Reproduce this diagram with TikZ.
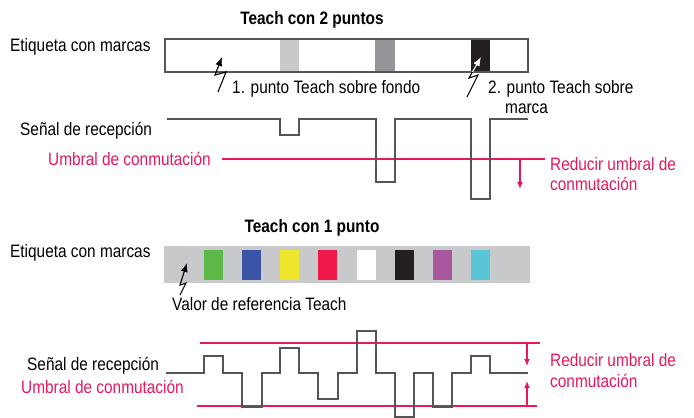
\documentclass[tikz,border=0pt]{standalone}
\usepackage{fontspec}
\setmainfont{Liberation Sans}[FakeStretch=0.855]
\usetikzlibrary{arrows.meta}
\definecolor{umbral}{HTML}{E8185A}
\definecolor{sig}{HTML}{555555}
\definecolor{lgray}{HTML}{C8C9CA}
\definecolor{mgray}{HTML}{939598}
\definecolor{dblack}{HTML}{231F20}
\definecolor{mgreen}{HTML}{5DB947}
\definecolor{mblue}{HTML}{3A53A4}
\definecolor{myellow}{HTML}{EFE52A}
\definecolor{mred}{HTML}{EE1849}
\definecolor{mpurple}{HTML}{A8579F}
\definecolor{mcyan}{HTML}{5BC5D8}
\tikzset{
  txt/.style={anchor=base west, inner sep=0pt, font=\fontsize{18}{20}\selectfont},
  rtxt/.style={txt, text=umbral},
  ttl/.style={anchor=base, inner sep=0pt, font=\fontsize{18}{20}\selectfont\bfseries},
  signal/.style={draw=sig, line width=1.5pt},
  thr/.style={draw=umbral, line width=1.3pt},
  thrarrow/.style={draw=umbral, line width=1.3pt, -{Latex[length=7pt,width=6pt]}},
  bolt/.style={line width=1.1pt, -{Latex[length=9pt,width=7pt]}}
}
\begin{document}
\begin{tikzpicture}[x=1pt,y=-1pt]
\useasboundingbox (0,0) rectangle (694,418);

% ---------- Teach con 2 puntos ----------
\node[ttl] (t2) at (312,24) {Teach con 2 puntos};
\node[txt] (et1) at (10,51) {Etiqueta con marcas};
\fill[lgray] (280,39) rectangle (299,72);
\fill[mgray] (375,39) rectangle (395,72);
\fill[dblack] (471,39) rectangle (490,72);
\draw[sig, line width=1.3pt] (165,39) rectangle (528,72);

\coordinate (b1a) at (218,92);
\coordinate (b1t) at (222,57);
\draw[bolt, draw=black] (b1a) -- (226,72) -- (215,75) -- (b1t);
\coordinate (b2a) at (467,97);
\coordinate (b2t) at (481,57);
\draw[bolt, draw=black] (b2a) -- (478,75) -- (469,78) -- (b2t);
\begin{scope}
  \clip (471,39) rectangle (490,71.3);
  \draw[bolt, draw=white] (b2a) -- (478,75) -- (469,78) -- (b2t);
\end{scope}

\node[txt] (p1) at (232,93) {1. punto Teach sobre fondo};
\node[txt] (p2) at (488,93) {2. punto Teach sobre};
\node[txt] (p2b) at (505,113) {marca};

\node[txt] (sr1) at (20,135) {Señal de recepción};
\node[rtxt] (um1) at (48,165) {Umbral de conmutación};

\draw[thr] (222,159) -- (545,159);
\draw[signal] (167,119) -- (280,119) -- (280,135) -- (299,135) -- (299,119)
  -- (376,119) -- (376,182) -- (395,182) -- (395,119) -- (471,119) -- (471,199)
  -- (490,199) -- (490,119) -- (528,119);
\coordinate (a1s) at (520,159);
\coordinate (a1e) at (520,189);
\draw[thrarrow] (a1s) -- (a1e);
\node[rtxt] (rd1) at (550,170) {Reducir umbral de};
\node[rtxt] (rd1b) at (550,190) {conmutación};

% ---------- Teach con 1 punto ----------
\node[ttl] (t1) at (312,232) {Teach con 1 punto};
\node[txt] (et2) at (10,257) {Etiqueta con marcas};
\fill[lgray] (164,246) rectangle (530,283);
\foreach \x/\c in {204/mgreen,242/mblue,280/myellow,318/mred,357/white,395/dblack,433/mpurple,471/mcyan}
  \fill[\c] (\x,250) rectangle ++(19,30);
\coordinate (b3a) at (180,295);
\coordinate (b3t) at (187,263);
\draw[bolt, draw=black] (b3a) -- (186,283) -- (180,285) -- (b3t);
\node[txt] (vr) at (172,310) {Valor de referencia Teach};

\node[txt] (sr2) at (27,370) {Señal de recepción};
\node[rtxt] (um2) at (21,393) {Umbral de conmutación};

\draw[thr] (200,343) -- (540,343);
\draw[thr] (197,406) -- (537,406);
\draw[signal] (166,373) -- (204,373) -- (204,356) -- (223,356) -- (223,373)
  -- (242,373) -- (242,407) -- (262,407) -- (262,373) -- (280,373) -- (280,348)
  -- (299,348) -- (299,373) -- (318,373) -- (318,399) -- (338,399) -- (338,373)
  -- (357,373) -- (357,331) -- (376,331) -- (376,373) -- (395,373) -- (395,417)
  -- (414,417) -- (414,373) -- (433,373) -- (433,407) -- (452,407) -- (452,373)
  -- (471,373) -- (471,356) -- (490,356) -- (490,373) -- (528,373);
\coordinate (a2s) at (527,343);
\coordinate (a2e) at (527,366);
\coordinate (a3s) at (527,406);
\coordinate (a3e) at (527,381);
\draw[thrarrow] (a2s) -- (a2e);
\draw[thrarrow] (a3s) -- (a3e);
\node[rtxt] (rd2) at (550,366) {Reducir umbral de};
\node[rtxt] (rd2b) at (550,387) {conmutación};
\end{tikzpicture}
\end{document}
